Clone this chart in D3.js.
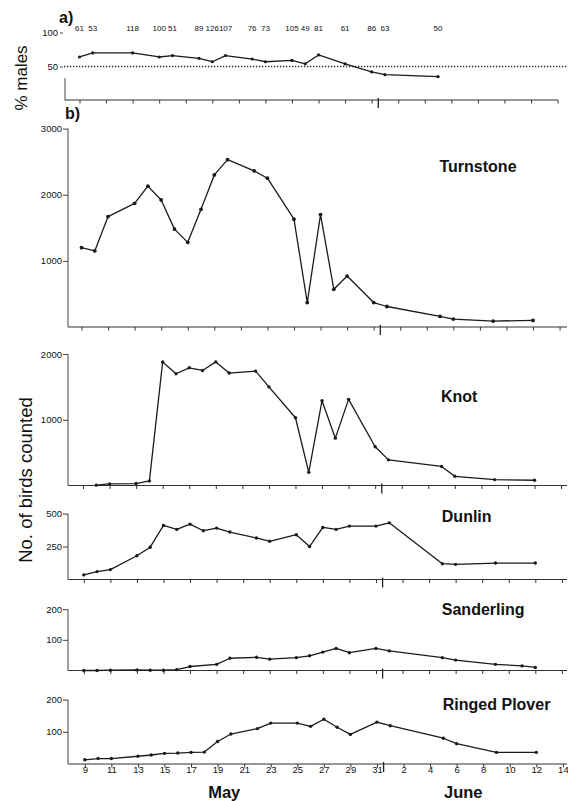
<!DOCTYPE html>
<html>
<head>
<meta charset="utf-8">
<script src="https://cdn.jsdelivr.net/npm/d3@7/dist/d3.min.js"></script>
<style>
  html, body { margin: 0; padding: 0; background: #fff; }
  svg { display: block; }
  text { font-family: "Liberation Sans", Arial, Helvetica, sans-serif; fill: #111; }
</style>
</head>
<body>
<svg id="chart" width="568" height="801"></svg>
<script>
// ---------------- DATA ----------------
// day index: May days as-is, June 1 = 32, June 2 = 33, ...
const maleDays = [9, 10, 13, 15, 16, 18, 19, 20, 22, 23, 25, 26, 27, 29, 31, 32, 36];
const malePct  = [64, 70, 70, 64, 66, 62, 57, 66, 61, 57, 59, 54, 67, 54, 42, 38, 35];
const maleN    = [61, 53, 118, 100, 51, 89, 126, 107, 76, 73, 105, 49, 81, 61, 86, 63, 50];

const countDays = [9, 10, 11, 13, 14, 15, 16, 17, 18, 19, 20, 22, 23, 25, 26, 27, 28, 29, 31, 32, 36, 37, 40, 43];
const turnstone = [1200, 1150, 1670, 1870, 2130, 1920, 1480, 1280, 1780, 2300, 2530, 2360, 2250, 1630, 370, 1700, 570, 770, 370, 310, 160, 120, 90, 100];

const knotDays  = [10, 11, 13, 14, 15, 16, 17, 18, 19, 20, 22, 23, 25, 26, 27, 28, 29, 31, 32, 36, 37, 40, 43];
const knot      = [5, 25, 30, 70, 1880, 1700, 1790, 1750, 1880, 1710, 1740, 1500, 1030, 200, 1290, 720, 1310, 590, 390, 290, 140, 90, 80];

const dunlin    = [35, 60, 75, 180, 245, 410, 380, 420, 370, 390, 360, 315, 290, 340, 250, 395, 380, 405, 405, 430, 120, 115, 125, 125];

const sanderlingDays = [9, 10, 11, 13, 14, 15, 16, 17, 19, 20, 22, 23, 25, 26, 27, 28, 29, 31, 32, 36, 37, 40, 42, 43];
const sanderling     = [0, 0, 1, 2, 1, 1, 3, 13, 20, 40, 43, 37, 42, 48, 60, 72, 58, 72, 64, 42, 34, 20, 15, 10];

const ringedPlover = [13, 17, 17, 24, 28, 33, 34, 36, 37, 70, 93, 110, 127, 127, 117, 139, 114, 92, 130, 119, 80, 63, 36, 36];

const xTickDays   = [9, 11, 13, 15, 17, 19, 21, 23, 25, 27, 29, 31, 33, 35, 37, 39, 41, 43, 45];
const xTickLabels = ["9", "11", "13", "15", "17", "19", "21", "23", "25", "27", "29", "31", "2", "4", "6", "8", "10", "12", "14"];
const monthBoundary = 31.5;
const monthNames = ["May", "June"];
const monthCenterDays = [19.5, 37.5];

const speciesNames = ["Turnstone", "Knot", "Dunlin", "Sanderling", "Ringed Plover"];
const speciesYTicks = [[1000, 2000, 3000], [1000, 2000], [250, 500], [100, 200], [100, 200]];
const speciesMax = [3000, 2000, 500, 200, 200];
const maleYTicks = [50, 100];

// ---------------- LAYOUT ----------------
const PX_PER_DAY = 13.28;
const svg = d3.select("#chart");
const ink = "#1b1b1b";
const fmt = d3.format("d");

function xScaleFor(x9) {
  return d3.scaleLinear().domain([9, 43]).range([x9, x9 + 34 * PX_PER_DAY]);
}

const panelLayout = [
  { x9: 81.5, y0: 327.0, yMax: 128.6, axisX: 68, labelY: 166 },
  { x9: 83.0, y0: 485.5, yMax: 354.0, axisX: 68, labelY: 396 },
  { x9: 83.8, y0: 579.5, yMax: 513.6, axisX: 68, labelY: 516 },
  { x9: 83.8, y0: 670.5, yMax: 609.2, axisX: 68, labelY: 609 },
  { x9: 84.8, y0: 764.0, yMax: 699.6, axisX: 68, labelY: 704 }
];

const seriesDays = [countDays, knotDays, countDays, sanderlingDays, countDays];
const seriesVals = [turnstone, knot, dunlin, sanderling, ringedPlover];

function drawXAxis(g, x, y0, xStart, xEnd, withLabels) {
  g.append("line")
    .attr("x1", xStart).attr("x2", xEnd)
    .attr("y1", y0).attr("y2", y0)
    .attr("stroke", "#333").attr("stroke-width", 1.1);
  const ax = d3.axisBottom(x)
    .tickValues(xTickDays)
    .tickSize(3.5)
    .tickPadding(-1)
    .tickFormat((d, i) => withLabels ? xTickLabels[i] : "");
  const axG = g.append("g").attr("transform", `translate(0,${y0})`).call(ax);
  axG.select(".domain").remove();
  axG.selectAll(".tick line").attr("stroke", "#333").attr("stroke-width", 1);
  axG.selectAll(".tick text")
    .attr("font-size", 9.5)
    .attr("font-family", "Liberation Sans, Arial, sans-serif")
    .attr("fill", ink);
  // month separator
  g.append("line")
    .attr("x1", x(monthBoundary)).attr("x2", x(monthBoundary))
    .attr("y1", y0 - 2).attr("y2", y0 + 8)
    .attr("stroke", "#222").attr("stroke-width", 1.3);
}

function drawSeries(g, x, y, days, vals, r) {
  const pts = days.map((d, i) => [d, vals[i]]);
  const line = d3.line().x(p => x(p[0])).y(p => y(p[1]));
  g.append("path")
    .attr("d", line(pts))
    .attr("fill", "none")
    .attr("stroke", ink)
    .attr("stroke-width", 1.3)
    .attr("stroke-linejoin", "round");
  g.selectAll("circle.pt").data(pts).enter().append("circle")
    .attr("class", "pt")
    .attr("cx", p => x(p[0]))
    .attr("cy", p => y(p[1]))
    .attr("r", r)
    .attr("fill", ink);
}

// ---------------- PANEL a) % males ----------------
{
  const g = svg.append("g");
  const x = xScaleFor(79.5);
  const y = d3.scaleLinear().domain([0, 100]).range([100.5, 32.5]);

  // y axis (partial, as in the faded original)
  g.append("line").attr("x1", 65).attr("x2", 65)
    .attr("y1", y(33)).attr("y2", y(0))
    .attr("stroke", "#444").attr("stroke-width", 1);
  const yAx = d3.axisLeft(y).tickValues(maleYTicks).tickSize(3).tickPadding(2).tickFormat(fmt);
  const yG = g.append("g").attr("transform", "translate(63,0)").call(yAx);
  yG.select(".domain").remove();
  yG.selectAll(".tick line").attr("stroke", "#444");
  yG.selectAll(".tick text").attr("font-size", 9.5).attr("fill", ink)
    .attr("font-family", "Liberation Sans, Arial, sans-serif");

  // 50% reference (dotted)
  g.append("line")
    .attr("x1", 64).attr("x2", 568)
    .attr("y1", y(50)).attr("y2", y(50))
    .attr("stroke", "#222").attr("stroke-width", 1.7)
    .attr("stroke-dasharray", "1.3,1.7");

  drawXAxis(g, x, 100, 65, 558, false);
  drawSeries(g, x, y, maleDays, malePct, 1.6);

  // sample sizes
  g.selectAll("text.n").data(maleN).enter().append("text")
    .attr("class", "n")
    .attr("x", (d, i) => x(maleDays[i]))
    .attr("y", 31)
    .attr("text-anchor", "middle")
    .attr("font-size", 8)
    .text(d => d);

  svg.append("text").attr("x", 59).attr("y", 23)
    .attr("font-size", 16).attr("font-weight", "bold").text("a)");
  svg.append("text")
    .attr("transform", "translate(27,78) rotate(-90)")
    .attr("text-anchor", "middle")
    .attr("font-size", 17)
    .text("% males");
}

// ---------------- PANEL b) counts ----------------
panelLayout.forEach((L, k) => {
  const g = svg.append("g");
  const x = xScaleFor(L.x9);
  const y = d3.scaleLinear().domain([0, speciesMax[k]]).range([L.y0, L.yMax]);

  // y axis
  g.append("line").attr("x1", L.axisX).attr("x2", L.axisX)
    .attr("y1", y(speciesMax[k])).attr("y2", L.y0)
    .attr("stroke", "#444").attr("stroke-width", 1);
  const yAx = d3.axisLeft(y).tickValues(speciesYTicks[k]).tickSize(5).tickPadding(1).tickFormat(fmt);
  const yG = g.append("g").attr("transform", `translate(${L.axisX},0)`).call(yAx);
  yG.select(".domain").remove();
  yG.selectAll(".tick line").attr("stroke", "#444");
  yG.selectAll(".tick text").attr("font-size", 9.5).attr("fill", ink)
    .attr("font-family", "Liberation Sans, Arial, sans-serif");

  drawXAxis(g, x, L.y0, L.axisX, 567, k === panelLayout.length - 1);
  drawSeries(g, x, y, seriesDays[k], seriesVals[k], k === 0 ? 1.9 : 1.7);

  g.append("text")
    .attr("x", 440 + (L.x9 - 82))
    .attr("y", L.labelY)
    .attr("dominant-baseline", "central")
    .attr("font-size", 16)
    .attr("font-weight", "bold")
    .text(speciesNames[k]);

  if (k === panelLayout.length - 1) {
    svg.selectAll("text.month").data(monthNames).enter().append("text")
      .attr("class", "month")
      .attr("x", (d, i) => x(monthCenterDays[i]))
      .attr("y", 797.5)
      .attr("text-anchor", "middle")
      .attr("font-size", 16.5)
      .attr("font-weight", "bold")
      .text(d => d);
  }
});

svg.append("text").attr("x", 65).attr("y", 119)
  .attr("font-size", 16).attr("font-weight", "bold").text("b)");

svg.append("text")
  .attr("transform", "translate(32,480) rotate(-90)")
  .attr("text-anchor", "middle")
  .attr("font-size", 18.5)
  .text("No. of birds counted");
</script>
</body>
</html>
